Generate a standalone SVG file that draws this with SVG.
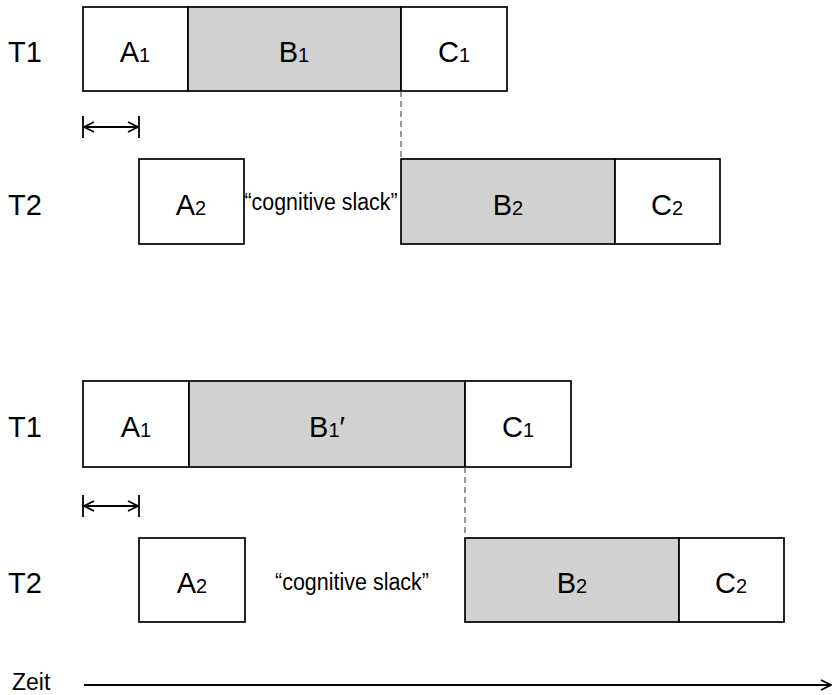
<svg xmlns="http://www.w3.org/2000/svg" width="833" height="695" viewBox="0 0 833 695">
<style>
.box{stroke:#000;stroke-width:1.7;fill:#fff}
.gray{fill:#d1d1d1}
.lbl{font-family:"Liberation Sans",Arial,sans-serif;font-size:29px;fill:#000}
.sub{font-size:20px}
.zeit{font-family:"Liberation Sans",Arial,sans-serif;font-size:23px;fill:#000}
.slack{font-family:"Liberation Sans",Arial,sans-serif;font-size:23px;fill:#000}
.dash{stroke:#555;stroke-width:1.2;stroke-dasharray:6 4;fill:none}
.ln{stroke:#000;stroke-width:1.8;fill:none}
</style>
<defs>
<marker id="chev" viewBox="0 0 12 12" refX="11" refY="6" markerWidth="12" markerHeight="12" markerUnits="userSpaceOnUse" orient="auto-start-reverse">
<path d="M1,1 L11,6 L1,11" fill="none" stroke="#000" stroke-width="1.8"/>
</marker>
</defs>
<g id="labels">
<text class="lbl" x="8" y="62">T1</text>
<text class="lbl" x="8" y="215">T2</text>
<text class="lbl" x="8" y="437">T1</text>
<text class="lbl" x="8" y="593">T2</text>
<text class="zeit" x="12" y="690">Zeit</text>
</g>
<g id="top-A1"><rect class="box" x="83" y="7" width="105" height="84"/><text class="lbl" x="135" y="62" text-anchor="middle">A<tspan class="sub">1</tspan></text></g>
<g id="top-B1"><rect class="box gray" x="188" y="7" width="213" height="84"/><text class="lbl" x="294" y="62" text-anchor="middle">B<tspan class="sub">1</tspan></text></g>
<g id="top-C1"><rect class="box" x="401" y="7" width="106" height="84"/><text class="lbl" x="454" y="62" text-anchor="middle">C<tspan class="sub">1</tspan></text></g>
<g id="top-A2"><rect class="box" x="139" y="159" width="105" height="85"/><text class="lbl" x="191" y="215" text-anchor="middle">A<tspan class="sub">2</tspan></text></g>
<g id="top-slack"><text class="slack" x="321" y="210" text-anchor="middle" textLength="153" lengthAdjust="spacingAndGlyphs">“cognitive slack”</text></g>
<g id="top-B2"><rect class="box gray" x="401" y="159" width="214" height="85"/><text class="lbl" x="508" y="215" text-anchor="middle">B<tspan class="sub">2</tspan></text></g>
<g id="top-C2"><rect class="box" x="615" y="159" width="105" height="85"/><text class="lbl" x="667" y="215" text-anchor="middle">C<tspan class="sub">2</tspan></text></g>
<g id="bot-A1"><rect class="box" x="83" y="381" width="106" height="86"/><text class="lbl" x="136" y="437" text-anchor="middle">A<tspan class="sub">1</tspan></text></g>
<g id="bot-B1"><rect class="box gray" x="189" y="381" width="276" height="86"/><text class="lbl" x="327" y="437" text-anchor="middle">B<tspan class="sub">1</tspan>′</text></g>
<g id="bot-C1"><rect class="box" x="465" y="381" width="106" height="86"/><text class="lbl" x="518" y="437" text-anchor="middle">C<tspan class="sub">1</tspan></text></g>
<g id="bot-A2"><rect class="box" x="139" y="538" width="106" height="84"/><text class="lbl" x="192" y="593" text-anchor="middle">A<tspan class="sub">2</tspan></text></g>
<g id="bot-slack"><text class="slack" x="352" y="590" text-anchor="middle" textLength="154" lengthAdjust="spacingAndGlyphs">“cognitive slack”</text></g>
<g id="bot-B2"><rect class="box gray" x="465" y="538" width="214" height="84"/><text class="lbl" x="572" y="593" text-anchor="middle">B<tspan class="sub">2</tspan></text></g>
<g id="bot-C2"><rect class="box" x="679" y="538" width="105" height="84"/><text class="lbl" x="731" y="593" text-anchor="middle">C<tspan class="sub">2</tspan></text></g>
<g id="connectors">
<line class="dash" x1="401" y1="91" x2="401" y2="159"/>
<line class="dash" x1="465" y1="467" x2="465" y2="538"/>
<line class="ln" x1="83" y1="116" x2="83" y2="138"/>
<line class="ln" x1="139" y1="116" x2="139" y2="138"/>
<line class="ln" x1="84" y1="127" x2="138" y2="127" marker-start="url(#chev)" marker-end="url(#chev)"/>
<line class="ln" x1="83" y1="495" x2="83" y2="517"/>
<line class="ln" x1="139" y1="495" x2="139" y2="517"/>
<line class="ln" x1="84" y1="506" x2="138" y2="506" marker-start="url(#chev)" marker-end="url(#chev)"/>
<line class="ln" x1="84" y1="685" x2="831" y2="685" marker-end="url(#chev)"/>
</g>
</svg>
